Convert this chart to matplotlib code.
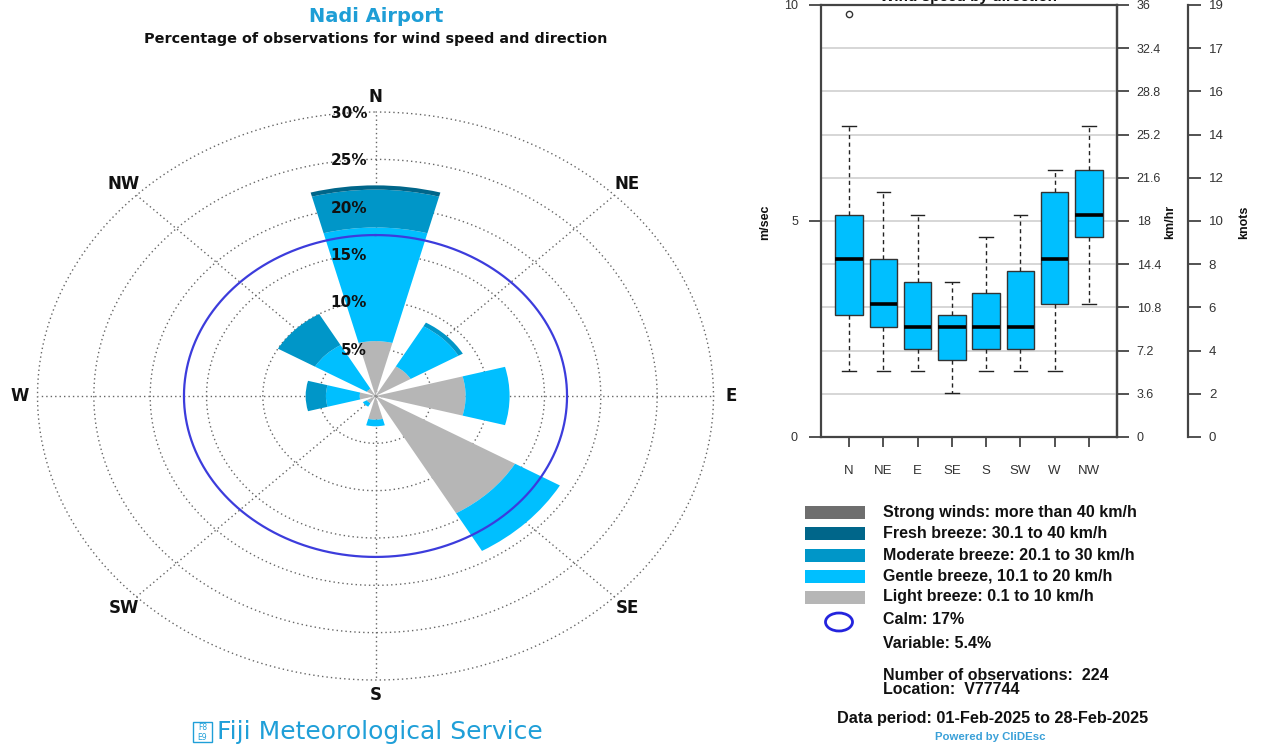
import numpy as np
import matplotlib
matplotlib.use('Agg')
import matplotlib.pyplot as plt
from matplotlib.patches import Rectangle, Ellipse

# ---------------- data ----------------
directions = ['N', 'NE', 'E', 'SE', 'S', 'SW', 'W', 'NW']
# wind rose: percentage of observations per speed class
light_breeze = [5.8, 3.6, 8.0, 14.3, 2.5, 0.9, 1.4, 0.9]
gentle_breeze = [12.0, 4.9, 3.9, 4.6, 0.7, 0.4, 3.0, 5.3]
moderate_breeze = [4.0, 0.45, 0.0, 0.0, 0.0, 0.0, 1.8, 3.8]
fresh_breeze = [0.45, 0.0, 0.0, 0.0, 0.0, 0.0, 0.0, 0.0]
strong_winds = [0.0, 0.0, 0.0, 0.0, 0.0, 0.0, 0.0, 0.0]
calm_pct = 17
variable_pct = 5.4
n_obs = 224
ring_ticks = [5, 10, 15, 20, 25, 30]

# box plot (m/s)
whis_lo = [1.53, 1.53, 1.53, 1.01, 1.53, 1.53, 1.53, 3.08]
q1 = [2.83, 2.55, 2.04, 1.79, 2.04, 2.04, 3.08, 4.62]
med = [4.11, 3.08, 2.55, 2.55, 2.55, 2.55, 4.11, 5.14]
q3 = [5.13, 4.12, 3.59, 2.83, 3.33, 3.85, 5.66, 6.17]
whis_hi = [7.20, 5.67, 5.14, 3.59, 4.62, 5.14, 6.18, 7.20]
fliers = [[9.79], [], [], [], [], [], [], []]

ms_ticks = [0, 5, 10]
grid_ms = list(range(11))
kmh_labels = ['0', '3.6', '7.2', '10.8', '14.4', '18', '21.6', '25.2', '28.8', '32.4', '36']
knots_labels = ['0', '2', '4', '6', '8', '10', '12', '14', '16', '17', '19']

class_labels = ['Strong winds: more than 40 km/h', 'Fresh breeze: 30.1 to 40 km/h',
                'Moderate breeze: 20.1 to 30 km/h', 'Gentle breeze, 10.1 to 20 km/h',
                'Light breeze: 0.1 to 10 km/h']
class_colors = ['#6e6e6e', '#00668a', '#0096c8', '#00bfff', '#b6b6b6']

# ---------------- figure ----------------
W, H = 1266, 746
fig = plt.figure(figsize=(W / 100, H / 100), dpi=100)
fig.patch.set_facecolor('white')


def fx(x):
    return x / W


def fy(y):
    return 1 - y / H


LEFT_FONT = ['DejaVu Sans']
RIGHT_FONT = ['Liberation Sans', 'DejaVu Sans']

# ---------------- wind rose ----------------
ax = fig.add_axes([fx(37.5), fy(680), (713.5 - 37.5) / W, (680 - 112) / H], projection='polar')
ax.set_aspect('auto')
ax.set_theta_zero_location('N')
ax.set_theta_direction(-1)
ax.set_ylim(0, 30)
ax.set_xticks([])
ax.set_yticks([])
ax.grid(False)
ax.spines['polar'].set_visible(False)
ax.patch.set_visible(False)

grid_style = dict(color='#666666', lw=1.0, ls=(0, (1, 2.2)), zorder=1, clip_on=False)
th = np.linspace(0, 2 * np.pi, 721)
for r in ring_ticks:
    ax.plot(th, np.full_like(th, r), **grid_style)
theta = np.deg2rad(np.arange(len(directions)) * 45.0)
for t in theta:
    ax.plot([t, t], [0, ring_ticks[-1]], **grid_style)

bottom = np.zeros(len(directions))
for vals, col in zip([light_breeze, gentle_breeze, moderate_breeze, fresh_breeze, strong_winds],
                     class_colors[::-1]):
    v = np.array(vals)
    ax.bar(theta, v, width=np.deg2rad(30), bottom=bottom, color=col, edgecolor='none',
           zorder=2, align='center')
    bottom += v

ax.plot(th, np.full_like(th, calm_pct), color='#3c3cdc', lw=1.6, zorder=3)

for r in ring_ticks:
    ax.annotate(f'{r}%', xy=(0, r), xytext=(-6, -1), textcoords='offset points',
                ha='right', va='center', fontsize=11, fontweight='bold',
                family=LEFT_FONT, color='#111111', zorder=4)
for t, name in zip(theta, directions):
    ax.text(t, 31.6, name, ha='center', va='center', fontsize=12, fontweight='bold',
            family=LEFT_FONT, color='#111111')

fig.text(fx(376), fy(17), 'Nadi Airport', ha='center', va='center', fontsize=14,
         fontweight='bold', color='#1e9ed6', family=LEFT_FONT)
fig.text(fx(376), fy(39), 'Percentage of observations for wind speed and direction',
         ha='center', va='center', fontsize=10.4, fontweight='bold', color='#111111',
         family=LEFT_FONT)

# footer
fig.add_artist(Rectangle((fx(193), fy(742)), 19 / W, 20 / H, transform=fig.transFigure,
                         fill=False, ec='#1f9fd8', lw=1))
fig.text(fx(202.5), fy(727.5), 'F8', ha='center', va='center', fontsize=5.5,
         color='#1f9fd8', family=LEFT_FONT)
fig.text(fx(202.5), fy(737), 'E9', ha='center', va='center', fontsize=5.5,
         color='#1f9fd8', family=LEFT_FONT)
fig.text(fx(217), fy(732), 'Fiji Meteorological Service', ha='left', va='center',
         fontsize=18, color='#1f9fd8', family=LEFT_FONT)

# ---------------- box plot ----------------
bx = fig.add_axes([fx(821), fy(437), (1117 - 821) / W, (437 - 5) / H])
stats = [dict(med=m, q1=a, q3=b, whislo=lo, whishi=hi, fliers=f, label=d)
         for d, lo, a, m, b, hi, f in zip(directions, whis_lo, q1, med, q3, whis_hi, fliers)]
pos = np.arange(1, len(directions) + 1)
bx.bxp(stats, positions=pos, widths=0.8, capwidths=0.4, patch_artist=True, showfliers=True,
       boxprops=dict(facecolor='#00bfff', edgecolor='#333333', linewidth=1.0),
       medianprops=dict(color='black', linewidth=2.6, solid_capstyle='butt'),
       whiskerprops=dict(color='#222222', linestyle=(0, (3, 2.5)), linewidth=1.0),
       capprops=dict(color='#222222', linewidth=1.0),
       flierprops=dict(marker='o', markerfacecolor='none', markeredgecolor='#333333',
                       markersize=4.5, markeredgewidth=1.0))
bx.set_xlim(0.18, 8.82)
bx.set_ylim(0, 10)
bx.set_xticks(pos, directions)
bx.set_yticks(ms_ticks, [str(v) for v in ms_ticks])
bx.set_yticks(grid_ms, minor=True)
bx.grid(True, which='both', axis='y', color='#cfcfcf', lw=1.2)
bx.set_axisbelow(True)
for s in bx.spines.values():
    s.set_color('#444444')
    s.set_linewidth(1.6)
bx.tick_params(axis='y', which='major', length=8.6, width=1.3, color='#444444', pad=8,
               labelsize=9, labelcolor='#333333')
bx.tick_params(axis='y', which='minor', length=0)
bx.tick_params(axis='x', length=7.2, width=1.3, color='#444444', pad=13, labelsize=9.5,
               labelcolor='#333333')
for lab in bx.get_xticklabels() + bx.get_yticklabels():
    lab.set_family(RIGHT_FONT)

sec = bx.secondary_yaxis('right')
sec.set_yticks(grid_ms, kmh_labels)
sec.tick_params(length=8.6, width=1.3, color='#444444', pad=5.5, labelsize=9,
                labelcolor='#333333')
sec.spines['right'].set_color('#444444')
sec.spines['right'].set_linewidth(1.6)
for lab in sec.get_yticklabels():
    lab.set_family(RIGHT_FONT)

sec2 = bx.secondary_yaxis((1188 - 821) / (1117 - 821))
sec2.set_yticks(grid_ms, knots_labels)
sec2.tick_params(length=9, width=1.3, color='#444444', pad=6, labelsize=9.5,
                 labelcolor='#333333')
sec2.spines['right'].set_color('#444444')
sec2.spines['right'].set_linewidth(1.6)
for lab in sec2.get_yticklabels():
    lab.set_family(RIGHT_FONT)

for x, txt in [(765, 'm/sec'), (1170, 'km/hr'), (1244, 'knots')]:
    fig.text(fx(x), fy(222), txt, rotation=90, ha='center', va='center', fontsize=9,
             fontweight='bold', color='#111111', family=RIGHT_FONT)

fig.text(fx(968), fy(1.5), 'Wind speed by direction', ha='center', va='baseline',
         fontsize=11, fontweight='bold', color='#111111', family=RIGHT_FONT)

# ---------------- legend ----------------
rows_y = [512, 533, 555, 576, 597]
for y, c, lab in zip(rows_y, class_colors, class_labels):
    fig.add_artist(Rectangle((fx(805), fy(y + 6.5)), 60 / W, 13 / H,
                             transform=fig.transFigure, fc=c, ec='none'))
    fig.text(fx(883), fy(y), lab, ha='left', va='center', fontsize=11.5,
             fontweight='bold', color='#111111', family=RIGHT_FONT)
fig.add_artist(Ellipse((fx(839), fy(622)), 27 / W, 18 / H, transform=fig.transFigure,
                       fill=False, ec='#2424dd', lw=2))
txt_kw = dict(ha='left', va='center', fontsize=11.5, fontweight='bold', color='#111111',
              family=RIGHT_FONT)
fig.text(fx(883), fy(620), f'Calm: {calm_pct}%', **txt_kw)
fig.text(fx(883), fy(643), f'Variable: {variable_pct}%', **txt_kw)
fig.text(fx(883), fy(675), f'Number of observations:  {n_obs}', **txt_kw)
fig.text(fx(883), fy(690), 'Location:  V77744', **txt_kw)
fig.text(fx(993), fy(718), 'Data period: 01-Feb-2025 to 28-Feb-2025', ha='center',
         va='center', fontsize=11.7, fontweight='bold', color='#111111', family=RIGHT_FONT)
fig.text(fx(990), fy(737), 'Powered by CliDEsc', ha='center', va='center', fontsize=8.2,
         fontweight='bold', color='#3aa0d8', family=RIGHT_FONT)

fig.savefig('out.png', dpi=100)
